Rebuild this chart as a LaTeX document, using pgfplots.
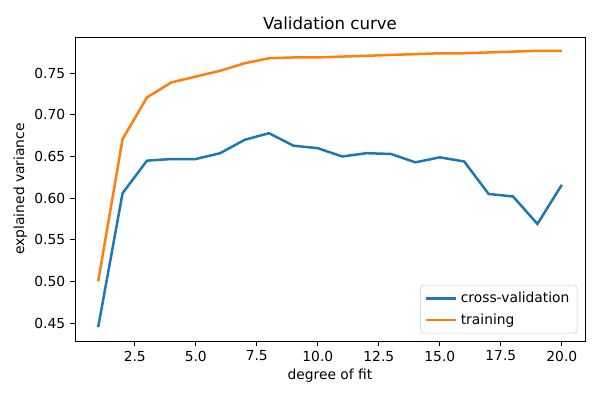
\documentclass[border=0pt]{standalone}
\usepackage{pgfplots}
\pgfplotsset{compat=1.18}
\usepackage{fontspec}
\setmainfont{DejaVu Sans}
\definecolor{mplblue}{HTML}{1F77B4}
\definecolor{mplorange}{HTML}{FF7F0E}
\begin{document}
\begin{tikzpicture}[x=0.72bp,y=0.72bp]
\begin{axis}[
  at={(0,0)}, anchor=south west,
  scale only axis, width=367.2bp, height=218.9bp,
  xmin=0.05, xmax=20.95, ymin=0.4284, ymax=0.7936,
  axis line style={black, line width=0.6bp},
  tick align=outside, tick style={black, line width=0.6bp},
  major tick length=3.5bp,
  xtick pos=bottom, ytick pos=left,
  xtick={2.5,5,7.5,10,12.5,15,17.5,20},
  ytick={0.45,0.5,0.55,0.6,0.65,0.7,0.75},
  xticklabel style={/pgf/number format/.cd, fixed, fixed zerofill, precision=1},
  yticklabel style={/pgf/number format/.cd, fixed, fixed zerofill, precision=2},
  /pgf/number format/assume math mode=true,
  ticklabel style={font=\fontsize{10}{12}\selectfont},
  label style={font=\fontsize{10}{12}\selectfont},
  ylabel style={yshift=-1.5bp},
  xlabel style={yshift=1bp},
  title style={font=\fontsize{12}{14}\selectfont, yshift=-4bp},
  title={Validation curve},
  xlabel={degree of fit}, ylabel={explained variance},
  legend style={font=\fontsize{10}{12}\selectfont, draw=black!20, rounded corners=2bp,
    inner xsep=3bp, inner ysep=3bp, row sep=2.5bp,
    at={(0.985,0.025)}, anchor=south east,
    nodes={inner xsep=2.5bp}},
  legend image code/.code={\draw[#1] (0bp,0bp) -- (21.6bp,0bp);},
  legend cell align=left,
  every axis plot/.append style={line width=1.8bp},
]
\addplot[mplblue] coordinates {
 (1,0.445) (2,0.606) (3,0.645) (4,0.647) (5,0.647) (6,0.654) (7,0.670) (8,0.678)
 (9,0.663) (10,0.660) (11,0.650) (12,0.654) (13,0.653) (14,0.643) (15,0.649)
 (16,0.644) (17,0.605) (18,0.602) (19,0.569) (20,0.616)};
\addlegendentry{cross-validation}
\addplot[mplorange] coordinates {
 (1,0.500) (2,0.671) (3,0.721) (4,0.739) (5,0.746) (6,0.753) (7,0.762) (8,0.768)
 (9,0.769) (10,0.769) (11,0.770) (12,0.771) (13,0.772) (14,0.773) (15,0.774)
 (16,0.774) (17,0.775) (18,0.776) (19,0.777) (20,0.777)};
\addlegendentry{training}
\end{axis}
\useasboundingbox (-75,-59) rectangle (525,341);
\end{tikzpicture}
\end{document}
